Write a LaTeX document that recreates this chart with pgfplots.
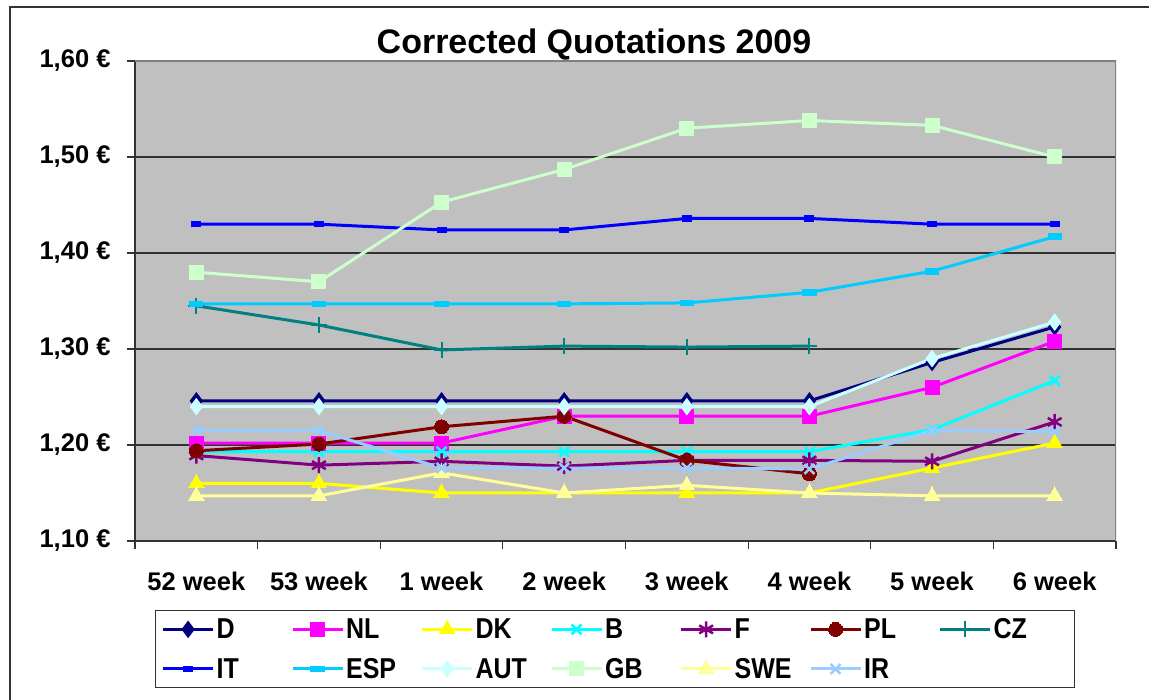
\documentclass[border=0pt]{standalone}
\usepackage{pgfplots}
\pgfplotsset{compat=1.18}
\usepackage{pgfplotstable}
\usepackage{fontspec}
\setmainfont{Liberation Sans}
\definecolor{cD}{HTML}{000080}
\definecolor{cNL}{HTML}{FF00FF}
\definecolor{cDK}{HTML}{FFFF00}
\definecolor{cB}{HTML}{00FFFF}
\definecolor{cF}{HTML}{800080}
\definecolor{cPL}{HTML}{800000}
\definecolor{cCZ}{HTML}{008080}
\definecolor{cIT}{HTML}{0000FF}
\definecolor{cESP}{HTML}{00CCFF}
\definecolor{cAUT}{HTML}{CCFFFF}
\definecolor{cGB}{HTML}{CCFFCC}
\definecolor{cSWE}{HTML}{FFFF99}
\definecolor{cIR}{HTML}{99CCFF}
\definecolor{plotbg}{HTML}{C0C0C0}
\definecolor{frame}{HTML}{333333}
\pgfplotstableread{
x D NL DK B F PL CZ IT ESP AUT GB SWE IR
0 1.246 1.202 1.160 1.193 1.189 1.194 1.345 1.430 1.347 1.240 1.380 1.147 1.215
1 1.246 1.202 1.160 1.193 1.179 1.201 1.325 1.430 1.347 1.240 1.370 1.147 1.215
2 1.246 1.202 1.150 1.193 1.183 1.219 1.299 1.424 1.347 1.240 1.453 1.171 1.176
3 1.246 1.230 1.150 1.193 1.178 1.230 1.303 1.424 1.347 1.240 1.487 1.150 1.176
4 1.246 1.230 1.150 1.193 1.184 1.184 1.302 1.436 1.348 1.240 1.530 1.158 1.176
5 1.246 1.230 1.150 1.193 1.184 1.170 1.303 1.436 1.359 1.240 1.538 1.150 1.175
6 1.286 1.260 1.176 1.216 1.183 nan nan 1.430 1.381 1.290 1.533 1.147 1.215
7 1.323 1.308 1.202 1.267 1.224 nan nan 1.430 1.417 1.328 1.500 1.147 1.214
}\data
\newcommand{\lt}[1]{\makebox[72.5pt][l]{\scalebox{1}[1.15]{#1}}}
\begin{document}
\begin{tikzpicture}
\useasboundingbox (0,0) rectangle (1149pt,700pt);
\draw[frame, line width=2.5pt] (10pt,0pt) -- (10pt,693pt) -- (1149pt,693pt);
\node[font=\fontsize{34}{40}\selectfont\bfseries] at (594pt,655pt) {Corrected Quotations 2009};
\begin{axis}[
  at={(135pt,159pt)}, anchor=south west,
  scale only axis, width=981pt, height=480pt,
  xmin=-0.5, xmax=7.5, ymin=1.1, ymax=1.6,
  axis background/.style={fill=plotbg},
  axis x line=bottom, axis y line=left,
  axis line style={-, draw=frame, line width=1.8pt},
  xtick={0,...,7},
  xticklabels={52 week,53 week,1 week,2 week,3 week,4 week,5 week,6 week},
  major x tick style={draw=none},
  minor xtick={-0.5,0.5,1.5,2.5,3.5,4.5,5.5,6.5,7.5},
  minor x tick style={draw=frame, line width=1.2pt},
  ytick={1.1,1.2,1.3,1.4,1.5,1.6},
  yticklabels={{1,10 €},{1,20 €},{1,30 €},{1,40 €},{1,50 €},{1,60 €}},
  y tick style={draw=frame, line width=1.2pt},
  tick align=outside,
  major tick length=8pt, minor tick length=8pt,
  ymajorgrids, grid style={draw=frame, line width=1.2pt},
  tick label style={font=\fontsize{25.5}{30}\selectfont\bfseries},
  yticklabel style={xshift=-13pt},
  xticklabel style={yshift=-19pt},
  unbounded coords=discard,
  every axis plot/.append style={line width=3pt},
  legend columns=7,
  legend style={at={(0.0204,-0.14375)}, anchor=north west, draw=frame, line width=1.2pt, fill=white,
     font=\fontsize{25}{30}\selectfont\bfseries, column sep=0pt, row sep=14pt, inner xsep=6pt, inner ysep=6pt},
  legend cell align=left,
  legend image code/.code={\draw[mark repeat=2,mark phase=2,#1] plot coordinates {(0pt,0pt) (25pt,0pt) (50pt,0pt)};},
]
\addplot[cD, mark=diamond*, mark size=8pt, mark options={solid, fill=cD, line width=1pt}] table[x=x,y=D]{\data};
\addplot[cNL, mark=square*, mark size=7pt, mark options={solid, fill=cNL, line width=0pt}] table[x=x,y=NL]{\data};
\addplot[cDK, mark=triangle*, mark size=9pt, mark options={solid, fill=cDK, line width=0pt}] table[x=x,y=DK]{\data};
\addplot[cB, mark=x, mark size=7pt, mark options={solid, line width=2.5pt}] table[x=x,y=B]{\data};
\addplot[cF, mark=asterisk, mark size=8pt, mark options={solid, line width=2.5pt}] table[x=x,y=F]{\data};
\addplot[cPL, mark=*, mark size=7pt, mark options={solid, fill=cPL, line width=0pt}] table[x=x,y=PL]{\data};
\addplot[cCZ, mark=+, mark size=8pt, mark options={solid, line width=2pt}] table[x=x,y=CZ]{\data};
\addplot[cIT, mark=square*, mark size=3.5pt, mark options={solid, fill=cIT, xscale=1.3, yscale=0.8, line width=0pt}] table[x=x,y=IT]{\data};
\addplot[cESP, mark=square*, mark size=3.5pt, mark options={solid, fill=cESP, xscale=1.9, yscale=0.8, line width=0pt}] table[x=x,y=ESP]{\data};
\addplot[cAUT, mark=diamond*, mark size=8pt, mark options={solid, fill=cAUT, line width=1pt}] table[x=x,y=AUT]{\data};
\addplot[cGB, mark=square*, mark size=7pt, mark options={solid, fill=cGB, line width=0pt}] table[x=x,y=GB]{\data};
\addplot[cSWE, mark=triangle*, mark size=9pt, mark options={solid, fill=cSWE, line width=0pt}] table[x=x,y=SWE]{\data};
\addplot[cIR, mark=x, mark size=7pt, mark options={solid, line width=2.5pt}] table[x=x,y=IR]{\data};
\draw[gray, line width=2.5pt] (rel axis cs:0,1) -- (rel axis cs:1,1) -- (rel axis cs:1,0);
\legend{\lt{D},\lt{NL},\lt{DK},\lt{B},\lt{F},\lt{PL},\lt{CZ},\lt{IT},\lt{ESP},\lt{AUT},\lt{GB},\lt{SWE},\lt{IR}}
\end{axis}
\end{tikzpicture}
\end{document}
